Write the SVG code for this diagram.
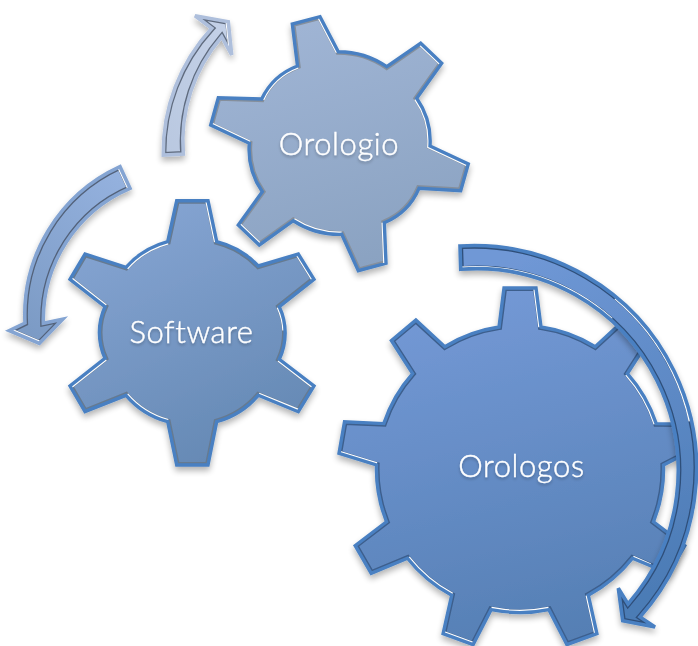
<svg xmlns="http://www.w3.org/2000/svg" width="698" height="646" viewBox="0 0 698 646">
<style>
.out{fill:none;stroke-linejoin:miter;stroke-width:3.4}
.aout{fill:none;stroke-linejoin:miter;stroke-width:3.6}
.edge{fill:none;stroke-width:6.2}
.hl{fill:none;stroke:#fff;stroke-width:5.6}
.t{font-family:"Lato","Noto Sans",sans-serif;font-size:31px;font-weight:300;letter-spacing:0.6px;fill:#fff;stroke:#fff;stroke-width:0.4px;text-anchor:middle}
</style>
<defs>
<filter id="sh" x="-15%" y="-15%" width="130%" height="130%"><feGaussianBlur in="SourceGraphic" stdDeviation="0.45" result="b"/><feGaussianBlur in="SourceAlpha" stdDeviation="3"/><feOffset dy="4"/><feComponentTransfer><feFuncA type="linear" slope="0.3"/></feComponentTransfer><feMerge><feMergeNode/><feMergeNode in="b"/></feMerge></filter>
<filter id="ts" x="-10%" y="-20%" width="120%" height="150%"><feGaussianBlur in="SourceGraphic" stdDeviation="0.3" result="b"/><feGaussianBlur in="SourceAlpha" stdDeviation="1.5"/><feOffset dy="2"/><feComponentTransfer><feFuncA type="linear" slope="0.25"/></feComponentTransfer><feMerge><feMergeNode/><feMergeNode in="b"/></feMerge></filter>
<linearGradient id="g1" x1="0.3" y1="0" x2="0.6" y2="1"><stop offset="0" stop-color="#a0b5d5"/><stop offset="1" stop-color="#8aa2c1"/></linearGradient>
<linearGradient id="g2" x1="0.25" y1="0" x2="0.7" y2="1"><stop offset="0" stop-color="#86a5d3"/><stop offset="1" stop-color="#6488b3"/></linearGradient>
<linearGradient id="g3" x1="0.35" y1="0" x2="0.6" y2="1"><stop offset="0" stop-color="#7499d6"/><stop offset="1" stop-color="#557fb4"/></linearGradient>
<linearGradient id="a1" x1="0" y1="1" x2="1" y2="0"><stop offset="0" stop-color="#b9c8e0"/><stop offset="1" stop-color="#c4d1e8"/></linearGradient>
<linearGradient id="a2" x1="0.8" y1="0" x2="0.3" y2="1"><stop offset="0" stop-color="#94b1de"/><stop offset="1" stop-color="#7c9bc5"/></linearGradient>
<linearGradient id="a3" x1="0.3" y1="0" x2="0.6" y2="1"><stop offset="0" stop-color="#7098d6"/><stop offset="1" stop-color="#4b7bb5"/></linearGradient>
<path id="pA" d="M297.5,66 L292.3,24 L320,16.7 L338.3,51.7 A85,85 0 0 1 386.7,66.7 L420.7,43.3 L441.7,63.3 L416.7,98.3 A75,75 0 0 1 430,146 L468.3,164 L460.7,190.7 L419,188.3 A65,65 0 0 1 384.3,222.7 L386,263.3 L358.3,270.7 L341.7,234.3 A85,85 0 0 1 293.3,220.7 L259.3,245 L238.3,225 L262.3,191.7 A75,75 0 0 1 249.3,143.3 L210.7,125 L218.3,97.7 L261.7,99 A65,65 0 0 1 297.5,66 Z"/>
<path id="pB" d="M167.7,241.7 L176.7,200.7 L208,200.7 L216.7,241.7 A85,85 0 0 1 258.3,266 L298.3,254 L314,279.3 L279.3,306.7 A62,62 0 0 1 279.3,359.3 L314,386 L298.3,411.7 L258.3,395.3 A85,85 0 0 1 216.7,421.7 L208,465 L176.7,465 L167.7,421.7 A85,85 0 0 1 126,395.3 L85,411.7 L70,386 L105,358.3 A62,62 0 0 1 105,306.7 L70,279.3 L85,254 L126,267.3 A85,85 0 0 1 167.7,241.7 Z"/>
<path id="pC" d="M499,327 L504,288 L536,288 L541,327 A143,143 0 0 1 595.2,346.7 L624.1,320.1 L648.6,340.7 L627.4,373.7 A143,143 0 0 1 656.2,423.6 L686,424 L689,452 L663.5,465 A143,143 0 0 1 653.5,521.8 L684.8,545.6 L668.8,573.4 L632.5,558.2 A143,143 0 0 1 588.3,595.2 L596.9,633.6 L566.9,644.6 L548.9,609.6 A143,143 0 0 1 491.1,609.6 L473.1,644.6 L443.1,633.6 L451.7,595.2 A143,143 0 0 1 407.5,558.2 L371.2,573.4 L355.2,545.6 L386.5,521.8 A143,143 0 0 1 376.5,465 L339,453.4 L344.5,421.8 L383.8,423.6 A143,143 0 0 1 412.6,373.7 L391.4,340.7 L415.9,320.1 L444.8,346.7 A143,143 0 0 1 499,327 Z"/>
<path id="pD" d="M163.3,155 A183,183 0 0 1 211.7,28.3 L195,15.7 L228.3,21.7 L231.7,55 L221.7,36.7 A160,160 0 0 0 183.3,154 Z"/>
<path id="pE" d="M120,166.7 A163,163 0 0 0 25,323 L9.3,330.7 L39.3,343.3 L62.7,319.3 L43.3,323.3 A143,143 0 0 1 130,188.3 Z"/>
<path id="pF" d="M460,246 A223,223 0 0 1 640,617 L655,627 L622.7,620.7 L618.3,588.3 L628,604 A202,202 0 0 0 460.7,269.3 Z"/>
<clipPath id="cA"><use href="#pA"/></clipPath>
<clipPath id="cB"><use href="#pB"/></clipPath>
<clipPath id="cC"><use href="#pC"/></clipPath>
<clipPath id="cD"><use href="#pD"/></clipPath>
<clipPath id="cE"><use href="#pE"/></clipPath>
<clipPath id="cF"><use href="#pF"/></clipPath>
</defs>
<rect width="698" height="646" fill="#fff"/>
<g id="node-orologio" filter="url(#sh)">
<use href="#pA" fill="url(#g1)"/>
<g clip-path="url(#cA)"><use href="#pA" class="edge" stroke="#858f9c"/>
<path class="hl" d="M320,16.7 L338.3,51.7 M420.7,43.3 L441.7,63.3 M416.7,98.3 A75,75 0 0 1 430,146 L468.3,164 M384.3,222.7 L386,263.3 M341.7,234.3 A85,85 0 0 1 293.3,220.7 M259.3,245 L238.3,225 M249.3,143.3 L210.7,125 M261.7,99 A65,65 0 0 1 297.5,66"/></g>
<use href="#pA" class="out" stroke="#4a80c2"/>
</g>
<g id="node-software" filter="url(#sh)">
<use href="#pB" fill="url(#g2)"/>
<g clip-path="url(#cB)"><use href="#pB" class="edge" stroke="#667a90"/>
<path class="hl" d="M208,200.7 L216.7,241.7 M298.3,254 L314,279.3 M279.3,359.3 L314,386 M298.3,411.7 L258.3,395.3 M167.7,421.7 A85,85 0 0 1 126,395.3 M70,386 L105,358.3 M70,279.3 L105,306.7 M126,267.3 A85,85 0 0 1 167.7,241.7"/>
<path class="hl" pathLength="100" stroke-dasharray="45 100" d="M279.3,306.7 A62,62 0 0 1 279.3,359.3"/></g>
<use href="#pB" class="out" stroke="#4a80c2"/>
</g>
<g id="node-orologos" filter="url(#sh)">
<use href="#pC" fill="url(#g3)"/>
<g clip-path="url(#cC)"><use href="#pC" class="edge" stroke="#3d5f8d"/>
<path class="hl" d="M536,288 L541,327 M627.4,373.7 A143,143 0 0 1 656.2,423.6 M632.5,558.2 L650,566 M588.3,595.2 L596.9,633.6 M548.9,609.6 A143,143 0 0 1 491.1,609.6 M443.1,633.6 L473.1,644.6 M451.7,595.2 A143,143 0 0 1 407.5,558.2 M339,453.4 L376.5,465"/></g>
<use href="#pC" class="out" stroke="#4a80c2"/>
</g>
<g id="connectors">
<g filter="url(#sh)">
<use href="#pD" fill="url(#a1)"/>
<g clip-path="url(#cD)"><use href="#pD" class="edge" stroke="#5f6b7e"/><path class="hl" d="M228.3,21.7 L231.7,55"/></g>
<use href="#pD" class="aout" stroke="#aebfdc"/>
</g>
<g filter="url(#sh)">
<use href="#pE" fill="url(#a2)"/>
<g clip-path="url(#cE)"><use href="#pE" class="edge" stroke="#53627a"/><path class="hl" d="M120,166.7 L130,188.3 M9.3,330.7 L39.3,343.3"/></g>
<use href="#pE" class="aout" stroke="#84a4d2"/>
</g>
<g filter="url(#sh)">
<use href="#pF" fill="url(#a3)"/>
<g clip-path="url(#cF)"><use href="#pF" class="edge" stroke="#2f4f7a"/>
<path class="hl" pathLength="100" stroke-dasharray="0 66 34" d="M628,604 A202,202 0 0 0 460.7,269.3"/>
<path class="hl" pathLength="100" stroke-dasharray="0 32 28 100" d="M460,246 A223,223 0 0 1 640,617"/></g>
<use href="#pF" class="aout" stroke="#4a80c2"/>
</g>
</g>
<g filter="url(#ts)">
<text class="t" x="339" y="155">Orologio</text>
<text class="t" x="191.5" y="343">Software</text>
<text class="t" x="521.5" y="477">Orologos</text>
</g>
</svg>
